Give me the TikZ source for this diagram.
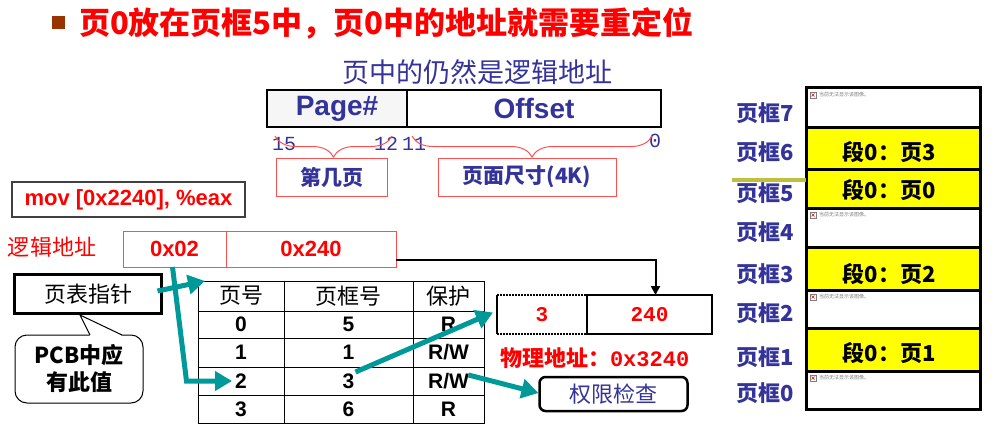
\documentclass[tikz,border=0pt]{standalone}
\usepackage{fontspec}
\setmainfont{Liberation Sans}
\newfontfamily\cjk{Noto Sans CJK SC}
\newfontfamily\mono{Liberation Mono}
\usetikzlibrary{arrows.meta,decorations.pathreplacing,calc}
\definecolor{navy}{RGB}{51,51,153}
\definecolor{tealarrow}{RGB}{0,153,153}
\definecolor{bulletbrown}{RGB}{153,51,0}
\definecolor{olivebar}{RGB}{192,192,64}
\definecolor{pinkred}{RGB}{255,80,80}
\definecolor{frameyellow}{RGB}{255,255,0}
\newcommand\fsz[1]{\fontsize{#1}{#1}\selectfont}
\begin{document}
\begin{tikzpicture}[x=1pt,y=-1pt,
  every node/.style={inner sep=0pt,outer sep=0pt},
  tarrow/.style={draw=tealarrow,line width=5pt,-{Triangle[length=17pt,width=19pt]}},
  redbox/.style={draw=pinkred,line width=1pt,anchor=north west},
  cell/.style={draw,line width=1pt,anchor=north west},
  frm/.style={draw,line width=3pt,anchor=north west,minimum width=174pt},
  seg/.style={font=\cjk\bfseries\fsz{22}},
  flabel/.style={text=navy,font=\cjk\bfseries\fsz{22}},
  broken/.style={draw=gray,fill=white,minimum size=6pt,line width=0.5pt},
  brokentext/.style={anchor=west,text=gray,font=\cjk\fsz{5}}]
\useasboundingbox (0,0) rectangle (1000,441);

% heading
\node[fill=bulletbrown,minimum size=13pt] (bul) at (58,23) {};
\node[anchor=west,text=red,font=\cjk\bfseries\fsz{31}] (title) at (79,23) {页0放在页框5中，页0中的地址就需要重定位};

% address layout
\node[text=navy,font=\cjk\fsz{27}] (sub) at (477,72) {页中的仍然是逻辑地址};
\node[draw,line width=2pt,fill=gray!7,minimum width=140pt,minimum height=37pt,anchor=north west,
      text=navy,font=\bfseries\fsz{28}] (pg) at (267,90) {Page\#};
\node[draw,line width=2pt,fill=white,minimum width=254pt,minimum height=37pt,anchor=north west,
      text=navy,font=\bfseries\fsz{28}] (off) at (407,90) {Offset};
\begin{scope}[every node/.style={text=navy,font=\mono\fsz{20},inner sep=0pt}]
  \node (b15) at (284,144) {15};
  \node (b12) at (386,144) {12};
  \node (b11) at (414,144) {11};
  \node (b0) at (655,141) {0};
\end{scope}
\draw[pinkred,line width=1pt,decorate,decoration={brace,mirror,amplitude=21pt}] (275,136) -- (392,136);
\draw[pinkred,line width=1pt,decorate,decoration={brace,mirror,amplitude=21pt}] (412,136) -- (652,136);
\node[redbox,minimum width=111pt,minimum height=38pt,text=navy,font=\cjk\bfseries\fsz{21}] (which) at (276,158) {第几页};
\node[redbox,minimum width=178pt,minimum height=38pt,text=navy,font=\cjk\bfseries\fsz{21}] (psize) at (438,158) {页面尺寸(4K)};

% instruction and logical address
\node[draw=darkgray,line width=1.2pt,minimum width=233pt,minimum height=35pt,anchor=north west,
      text=red,font=\bfseries\fsz{22}] (mov) at (12,182) {mov [0x2240], \%eax};
\node[anchor=west,text=red,font=\cjk\fsz{22}] (lalabel) at (8,247) {逻辑地址};
\node[redbox,minimum width=103pt,minimum height=36pt,text=red,font=\bfseries\fsz{22}] (lpg) at (123,231) {0x02};
\node[redbox,minimum width=170pt,minimum height=36pt,text=red,font=\bfseries\fsz{22}] (loff) at (226,231) {0x240};

% page table pointer and its note
\node[draw,line width=3pt,minimum width=147pt,minimum height=39pt,font=\cjk\fsz{22}] (ptr) at (88,294) {页表指针};
\node[draw,line width=1pt,rounded corners=12pt,minimum width=128pt,minimum height=68pt,align=center,
      font=\cjk\bfseries\fontsize{22}{27}\selectfont] (pcb) at (79,369) {PCB中应\\有此值};
\fill[white] ($(pcb.north)+(11,0.8)$) -- ($(ptr.south)+(-8,1.5)$) -- ($(pcb.north)+(43,0.8)$) -- cycle;
\draw[line width=1pt] ($(pcb.north)+(11,0)$) -- ($(ptr.south)+(-8,1.5)$) -- ($(pcb.north)+(43,0)$);

% page table
\begin{scope}[every node/.append style={font=\cjk\fsz{22}}]
  \node[cell,minimum width=86pt,minimum height=30pt] (h1) at (198,281) {页号};
  \node[cell,minimum width=129pt,minimum height=30pt] (h2) at (284,281) {页框号};
  \node[cell,minimum width=71pt,minimum height=30pt] (h3) at (413,281) {保护};
\end{scope}
\foreach \r/\y/\h/\a/\b/\c in {0/311/27/0/5/R,1/338/29/1/1/{R/W},2/367/28/2/3/{R/W},3/395/28/3/6/R}{
  \node[cell,minimum width=86pt,minimum height=\h pt,font=\bfseries\fsz{21}] (c\r-1) at (198,\y) {\a};
  \node[cell,minimum width=129pt,minimum height=\h pt,font=\bfseries\fsz{21}] (c\r-2) at (284,\y) {\b};
  \node[cell,minimum width=71pt,minimum height=\h pt,font=\bfseries\fsz{21}] (c\r-3) at (413,\y) {\c};
}

% physical address
\node[minimum width=90pt,minimum height=39pt,anchor=north west,text=red,font=\mono\bfseries\fsz{21}] (pp) at (497,295) {3};
\draw[line width=2.5pt] (pp.north west) -- (pp.south west);
\draw[line width=2.5pt,dash pattern=on 2pt off 1pt] (pp.north west) -- (pp.north east);
\draw[line width=2.5pt,dash pattern=on 2pt off 1pt] (pp.south west) -- (pp.south east);
\node[draw,line width=2.5pt,minimum width=125pt,minimum height=39pt,anchor=north west,text=red,
      font=\mono\bfseries\fsz{21}] (po) at (587,295) {240};
\node[anchor=west,text=red,font=\cjk\bfseries\fsz{22}] (phys) at (500,358) {物理地址：{\mono 0x3240}};
\node[draw,line width=2.5pt,rounded corners=6pt,minimum width=148pt,minimum height=34pt,text=navy,
      font=\cjk\fsz{22}] (chk) at (613.5,394) {权限检查};

% connectors
\draw[line width=2pt,-{Triangle[length=9pt,width=9pt]}] ([yshift=-11pt]loff.east) -| ([xshift=6pt]po.north);
\draw[tarrow] ([xshift=-4pt,yshift=3pt]ptr.east) -- ([xshift=7pt]h1.north west);
\draw[tarrow] ([xshift=-2pt]lpg.south) -- ($(lpg.south |- c2-1.center)+(12,0)$) -- ([xshift=-9pt]c2-1.center);
\draw[tarrow] ([xshift=7pt,yshift=9pt]c2-2.center) -- ([xshift=-4pt,yshift=2pt]pp.west);
\draw[tarrow] ([xshift=20pt,yshift=6pt]c2-3.center) -- ([xshift=-1pt,yshift=1pt]chk.west);

% memory frames
\node[frm,minimum height=39pt,fill=white] (f7) at (806,88) {};
\node[frm,minimum height=42pt,fill=frameyellow] (f6) at (806,127) {};
\node[frm,minimum height=39pt,fill=frameyellow] (f5) at (806,169) {};
\node[frm,minimum height=39pt,fill=white] (f4) at (806,208) {};
\node[frm,minimum height=43pt,fill=frameyellow] (f3) at (806,247) {};
\node[frm,minimum height=38pt,fill=white] (f2) at (806,290) {};
\node[frm,minimum height=43pt,fill=frameyellow] (f1) at (806,328) {};
\node[frm,minimum height=38pt,fill=white] (f0) at (806,371) {};

\node[seg] (s6) at (889,152) {段0：页3};
\node[seg] (s5) at (889,190) {段0：页0};
\node[seg] (s3) at (889,274) {段0：页2};
\node[seg] (s1) at (889,353) {段0：页1};

\foreach \n in {7,4,2,0}{
  \node[broken] (ic\n) at ([xshift=7pt,yshift=-7pt]f\n.north west) {};
  \draw[red,line width=0.6pt] ([xshift=1.5pt,yshift=-1.5pt]ic\n.north west) -- ([xshift=-1.5pt,yshift=1.5pt]ic\n.south east);
  \draw[red,line width=0.6pt] ([xshift=-1.5pt,yshift=-1.5pt]ic\n.north east) -- ([xshift=1.5pt,yshift=1.5pt]ic\n.south west);
  \node[brokentext] (bt\n) at ([xshift=3pt]ic\n.east) {当前无法显示该图像。};
}

\node[flabel] (l7) at (765,113) {页框7};
\node[flabel] (l6) at (765,152) {页框6};
\node[flabel] (l5) at (765,193) {页框5};
\node[flabel] (l4) at (765,232) {页框4};
\node[flabel] (l3) at (765,274) {页框3};
\node[flabel] (l2) at (765,313) {页框2};
\node[flabel] (l1) at (765,357) {页框1};
\node[flabel] (l0) at (765,393) {页框0};

\coordinate (olv) at (732,180);
\draw[olivebar,line width=4pt] (olv) -- ([yshift=-11pt]f5.north west);
\end{tikzpicture}
\end{document}
